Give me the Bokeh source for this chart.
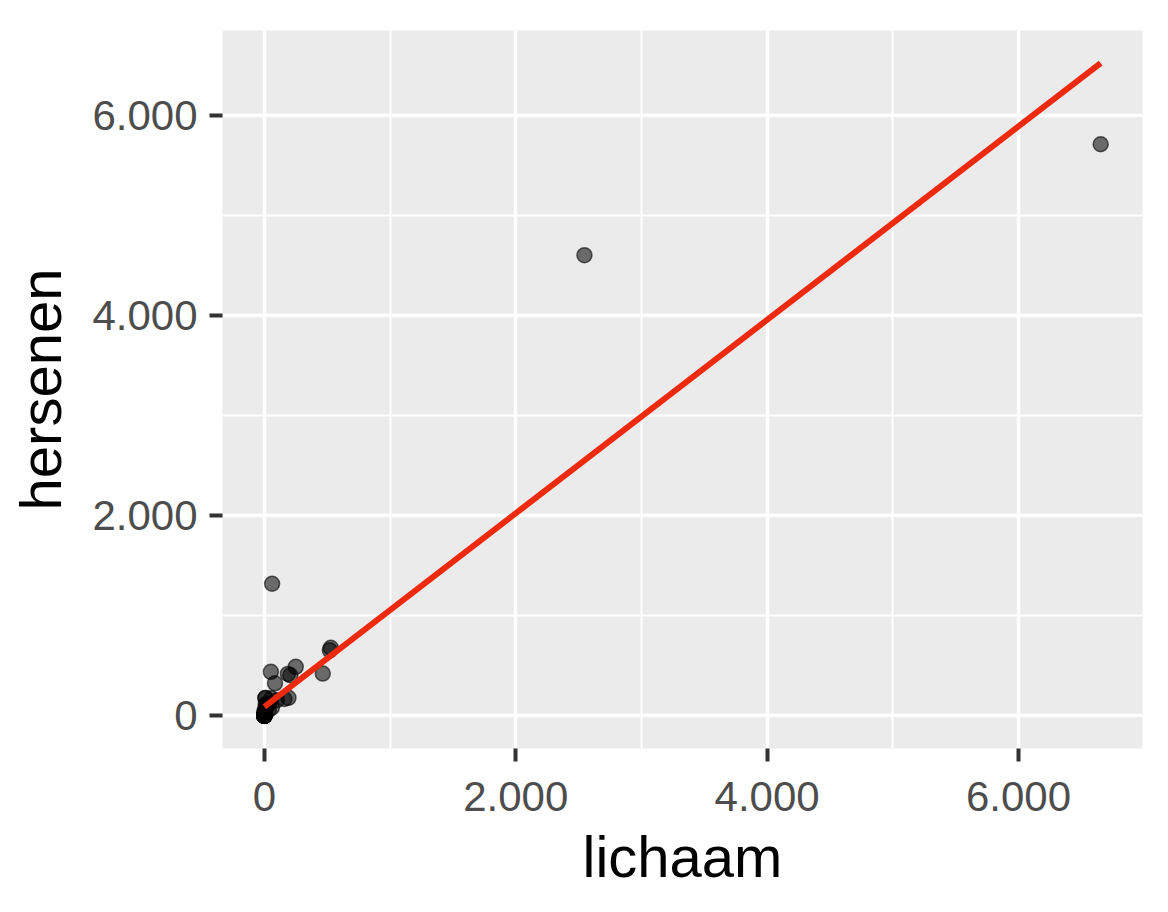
import numpy as np
from bokeh.plotting import figure
from bokeh.models import Range1d, FixedTicker, CustomJSTickFormatter, ColumnDataSource
from bokeh.embed import file_html
from bokeh.resources import INLINE

# MASS::mammals data: body (kg) -> lichaam, brain (g) -> hersenen
lichaam = [3.385, 0.480, 1.350, 465.0, 36.33, 27.66, 14.83, 1.040, 4.190, 0.425,
           0.101, 0.920, 1.000, 0.005, 0.060, 3.500, 2.000, 1.700, 2547.0, 0.023,
           187.1, 521.0, 0.785, 10.00, 3.300, 0.200, 1.410, 529.0, 207.0, 85.0,
           0.750, 62.0, 6654.0, 3.500, 6.800, 35.0, 4.050, 0.120, 0.023, 0.010,
           1.400, 250.0, 2.500, 55.5, 100.0, 52.16, 10.55, 0.550, 60.0, 3.600,
           4.288, 0.280, 0.075, 0.122, 0.048, 192.0, 3.000, 160.0, 0.900, 1.620,
           0.104, 4.235]
hersenen = [44.5, 15.5, 8.1, 423.0, 119.5, 115.0, 98.2, 5.5, 58.0, 6.4,
            4.0, 5.7, 6.6, 0.14, 1.0, 10.8, 12.3, 6.3, 4603.0, 0.3,
            419.0, 655.0, 3.5, 115.0, 25.6, 5.0, 17.5, 680.0, 406.0, 325.0,
            12.3, 1320.0, 5712.0, 3.9, 179.0, 56.0, 17.0, 1.0, 0.4, 0.25,
            12.5, 490.0, 12.1, 175.0, 157.0, 440.0, 179.5, 2.4, 81.0, 21.0,
            39.2, 1.9, 1.2, 3.0, 0.33, 180.0, 25.0, 169.0, 2.6, 11.4,
            2.5, 50.4]
major_ticks = [0, 2000, 4000, 6000]
minor_ticks = [1000, 3000, 5000]

x = np.array(lichaam)
y = np.array(hersenen)
slope, intercept = np.polyfit(x, y, 1)
line_x = np.array([x.min(), x.max()])
line_y = intercept + slope * line_x

def expand(lo, hi, f=0.05):
    d = (hi - lo) * f
    return lo - d, hi + d

xlo, xhi = expand(x.min(), x.max())
ylo, yhi = expand(min(y.min(), line_y.min()), max(y.max(), line_y.max()))

p = figure(width=1168, height=912, output_backend="svg", toolbar_location=None,
           x_range=Range1d(xlo, xhi), y_range=Range1d(ylo, yhi),
           min_border_left=222, min_border_right=26, min_border_top=30, min_border_bottom=164)
p.background_fill_color = "#EBEBEB"
p.border_fill_color = "white"
p.outline_line_color = None

fmt = CustomJSTickFormatter(code="return Math.round(tick).toString().replace(/\\B(?=(\\d{3})+(?!\\d))/g, '.');")
for ax, lab in ((p.xaxis[0], "lichaam"), (p.yaxis[0], "hersenen")):
    ax.ticker = FixedTicker(ticks=major_ticks, minor_ticks=minor_ticks)
    ax.formatter = fmt
    ax.axis_line_color = None
    ax.major_tick_line_color = "#333333"
    ax.major_tick_line_width = 4
    ax.major_tick_out = 13
    ax.major_tick_in = 0
    ax.minor_tick_out = 0
    ax.minor_tick_in = 0
    ax.major_label_text_font = "Liberation Sans"
    ax.major_label_text_font_size = "42px"
    ax.major_label_text_color = "#4D4D4D"
    ax.axis_label = lab
    ax.axis_label_text_font = "Liberation Sans"
    ax.axis_label_text_font_size = "58px"
    ax.axis_label_text_font_style = "normal"
    ax.axis_label_text_color = "black"
p.xaxis[0].major_label_standoff = 20
p.yaxis[0].major_label_standoff = 12
p.xaxis[0].axis_label_standoff = 10
p.yaxis[0].axis_label_standoff = 16

for g in (p.xgrid[0], p.ygrid[0]):
    g.grid_line_color = "white"
    g.grid_line_width = 3.5
    g.minor_grid_line_color = "white"
    g.minor_grid_line_width = 2

src = ColumnDataSource(dict(x=lichaam, y=hersenen))
p.scatter("x", "y", source=src, size=15, fill_color="black", fill_alpha=0.55,
          line_color="black", line_alpha=0.6, line_width=1.5)
p.line(line_x, line_y, line_color="#EE2A0E", line_width=6)

open("out.html", "w").write(file_html(p, INLINE))
